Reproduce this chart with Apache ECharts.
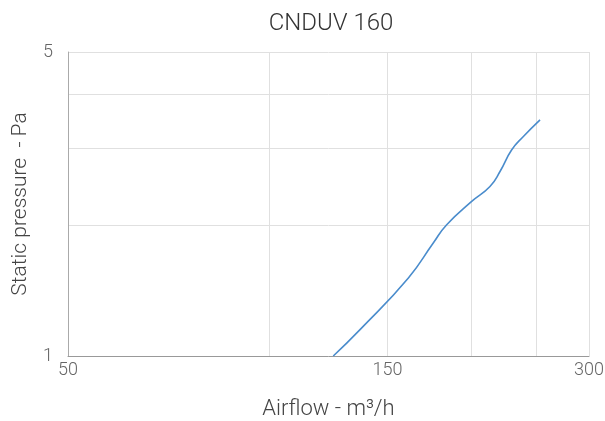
<!DOCTYPE html>
<html>
<head>
<meta charset="utf-8">
<script src="https://cdn.jsdelivr.net/npm/echarts@6/dist/echarts.min.js"></script>
<style>
  html, body { margin: 0; padding: 0; background: #fff; }
  #chart { width: 605px; height: 421px; }
</style>
</head>
<body>
<div id="chart"></div>
<script>
// curve (airflow m3/h, static pressure Pa)
const airflow = [124.5, 136.5, 161.2, 175.6, 183.9, 200.4, 213.4, 220.9, 230, 239.4, 253.5]
const pressure = [1.0, 1.15, 1.512, 1.819, 2.004, 2.267, 2.454, 2.656, 2.979, 3.196, 3.491]
const xTicks = [50, 100, 150, 200, 250, 300]
const xLabels = [50, 150, 300]
const yTicks = [1, 2, 3, 4, 5]
const yLabels = [1, 5]

const font = 'Roboto'
const chart = echarts.init(document.getElementById('chart'))

chart.setOption({
  animation: false,
  title: {
    text: 'CNDUV 160',
    left: 326,
    top: 7,
    textAlign: 'center',
    textStyle: { fontFamily: font, fontWeight: 300, fontSize: 24, color: '#333' }
  },
  grid: { left: 68, right: 16, top: 52, bottom: 65, outerBoundsMode: 'none', containLabel: false },
  xAxis: {
    type: 'log',
    min: 50,
    max: 300,
    name: 'Airflow - m³/h',
    nameLocation: 'middle',
    nameGap: 42,
    nameTextStyle: { fontFamily: font, fontWeight: 300, fontSize: 22, color: '#444' },
    axisLine: { lineStyle: { color: '#999' } },
    axisTick: { show: false, customValues: xTicks },
    axisLabel: { customValues: xLabels, fontFamily: font, fontWeight: 300, fontSize: 18, color: '#666', margin: 5 },
    splitLine: { show: true, lineStyle: { color: '#e0e0e0' } }
  },
  yAxis: {
    type: 'log',
    min: 1,
    max: 5,
    name: 'Static pressure  - Pa',
    nameLocation: 'middle',
    nameGap: 37,
    nameTextStyle: { fontFamily: font, fontWeight: 300, fontSize: 21, color: '#444' },
    axisLine: { show: true, lineStyle: { color: '#aaa' } },
    axisTick: { show: false, customValues: yTicks },
    axisLabel: { customValues: yLabels, fontFamily: font, fontWeight: 300, fontSize: 18, color: '#666', margin: 15 },
    splitLine: { show: true, lineStyle: { color: '#e0e0e0' } }
  },
  series: [{
    type: 'line',
    smooth: true,
    symbol: 'none',
    lineStyle: { color: '#4a8ccc', width: 1.6 },
    data: airflow.map((x, i) => [x, pressure[i]])
  }]
})
</script>
</body>
</html>
